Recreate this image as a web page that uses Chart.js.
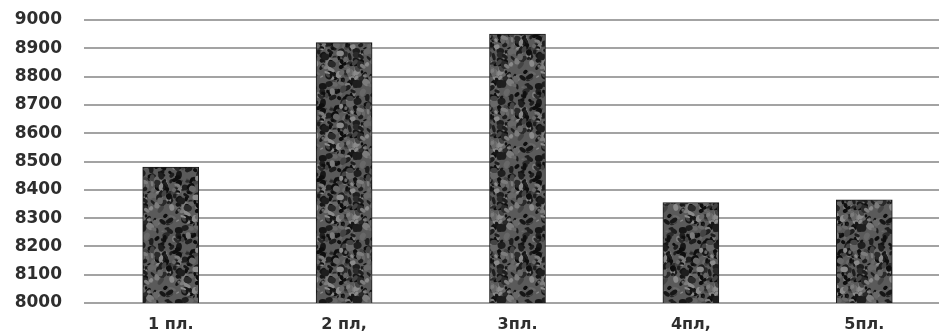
<!DOCTYPE html>
<html>
<head>
<meta charset="utf-8">
<script src="https://cdn.jsdelivr.net/npm/chart.js@4/dist/chart.umd.min.js"></script>
<style>
  html, body { margin: 0; padding: 0; background: #fff; overflow: hidden; }
  #wrap { width: 951px; height: 336px; }
</style>
</head>
<body>
<div id="wrap"><canvas id="c"></canvas></div>
<script>
// Output per floor
const categories = ['1 пл.', '2 пл,', '3пл.', '4пл,', '5пл.'];
const values = [8480, 8920, 8950, 8355, 8365];
const yMin = 8000;
const yMax = 9000;
const yStep = 100;

// Mottled grey texture used as the bar fill
function makeTexture() {
  const size = 72;
  const t = document.createElement('canvas');
  t.width = size; t.height = size;
  const g = t.getContext('2d');
  g.fillStyle = '#5a5a5a';
  g.fillRect(0, 0, size, size);
  let s = 97531;
  const next = () => { s = (s * 1103515245 + 12345) % 2147483648; return s / 2147483648; };
  const shades = ['#0e0e0e', '#161616', '#1e1e1e', '#2a2a2a', '#7c7c7c', '#8a8a8a', '#444444', '#686868'];
  for (let i = 0; i < 280; i++) {
    const x = next() * size, y = next() * size;
    const r = 1.6 + next() * 2.6;
    const ry = r * (0.4 + next() * 0.5);
    const rot = next() * Math.PI;
    g.fillStyle = shades[Math.floor(next() * shades.length)];
    for (const dx of [-size, 0, size]) {
      for (const dy of [-size, 0, size]) {
        g.beginPath();
        g.ellipse(x + dx, y + dy, r, ry, rot, 0, Math.PI * 2);
        g.fill();
      }
    }
  }
  return g.createPattern(t, 'repeat');
}

const ctx = document.getElementById('c').getContext('2d');
const texture = makeTexture();

new Chart(ctx, {
  type: 'bar',
  data: {
    labels: categories,
    datasets: [{
      data: values,
      backgroundColor: texture,
      borderColor: '#1a1a1a',
      borderWidth: 1,
      borderSkipped: false,
      barThickness: 56
    }]
  },
  options: {
    responsive: true,
    maintainAspectRatio: false,
    animation: false,
    devicePixelRatio: 1,
    layout: { padding: { top: 20, right: 0, left: 0, bottom: 0 } },
    plugins: { legend: { display: false }, tooltip: { enabled: false } },
    scales: {
      x: {
        grid: { display: false, drawTicks: false },
        border: { display: false },
        ticks: {
          color: '#2e2e2e',
          padding: 12,
          font: { family: 'DejaVu Sans', size: 16, weight: 'bold' }
        },
        afterFit(scale) { scale.height = 33; }
      },
      y: {
        min: yMin,
        max: yMax,
        // invisible tick marks keep the labels clear of the grid lines
        grid: { color: '#a3a3a3', lineWidth: 2, drawTicks: true, tickLength: 22, tickColor: 'rgba(0,0,0,0)' },
        border: { display: false },
        ticks: {
          stepSize: yStep,
          color: '#2e2e2e',
          padding: 0,
          font: { family: 'DejaVu Sans', size: 17, weight: 'bold' },
          callback: (v) => String(v)
        },
        afterFit(scale) { scale.width = 84; }
      }
    }
  }
});
</script>
</body>
</html>
